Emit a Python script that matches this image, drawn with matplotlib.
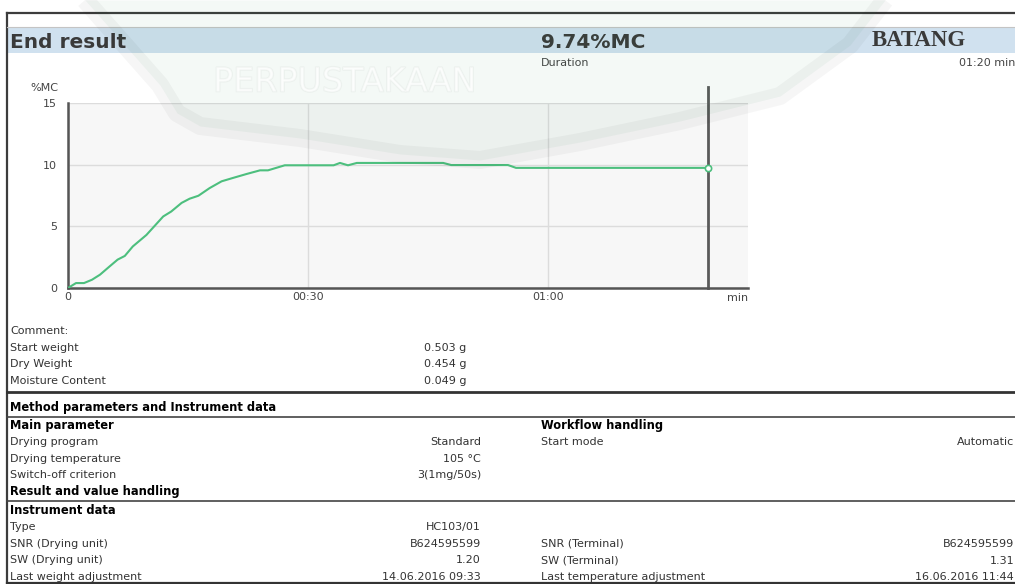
import numpy as np
import matplotlib.pyplot as plt
from matplotlib.ticker import FixedLocator, FuncFormatter
import matplotlib.patheffects as pe

# moisture curve of the drying run (seconds, %MC)
time_s = [0, 1, 2, 3, 4, 5.2, 6.2, 7.1, 8.1, 9.8, 11.9, 12.9, 14.2, 15.2, 16.3,
          17.7, 19.2, 20.6, 22.3, 24.0, 25.0, 27.1, 33.2, 34.0, 35.0, 36.1,
          46.9, 47.9, 55.0, 56.0, 80.0]
moisture_mc = [0, 0.4, 0.4, 0.67, 1.08, 1.75, 2.3, 2.6, 3.37, 4.3, 5.8, 6.2, 6.9,
               7.24, 7.48, 8.1, 8.65, 8.92, 9.24, 9.54, 9.54, 9.95, 9.95, 10.14,
               9.95, 10.14, 10.14, 9.97, 9.97, 9.74, 9.74]
end_time = 80
end_value = 9.74

y_ticks = [0, 5, 10, 15]
x_ticks = [0, 30, 60]

sample_rows = [("Comment:", ""), ("Start weight", "0.503 g"),
               ("Dry Weight", "0.454 g"), ("Moisture Content", "0.049 g")]
main_rows = [("Drying program", "Standard"), ("Drying temperature", "105 °C"),
             ("Switch-off criterion", "3(1mg/50s)")]
instrument_rows = [("Type", "HC103/01"), ("SNR (Drying unit)", "B624595599"),
                   ("SW (Drying unit)", "1.20"),
                   ("Last weight adjustment", "14.06.2016 09:33")]
terminal_rows = [("SNR (Terminal)", "B624595599"), ("SW (Terminal)", "1.31"),
                 ("Last temperature adjustment", "16.06.2016 11:44")]

W, H = 1015, 584
fig = plt.figure(figsize=(W / 100, H / 100), dpi=100)
fig.patch.set_facecolor('white')

# page layer in pixel coordinates
page = fig.add_axes([0, 0, 1, 1], zorder=0)
page.set_xlim(0, W)
page.set_ylim(H, 0)
page.axis('off')

txt = '#333333'
page.plot([7, W], [13, 13], color='#3c3c3c', lw=1.6)
page.plot([7, 7], [13, H], color='#3c3c3c', lw=1.6)
page.plot([7, W], [27, 27], color='#c4c4c4', lw=0.8)
page.fill_between([7, W], 28, 53, color='#d0e1ef', lw=0)

page.text(10, 42, "End result", fontsize=14.5, fontweight='bold', color='#3a3a3a', va='center')
page.text(541, 42, f"{end_value:.2f}%MC", fontsize=14.5, fontweight='bold', color='#3a3a3a', va='center')
page.text(872, 40, "BATANG", fontsize=16.5, fontweight='bold', family='Liberation Serif',
          color='#3a3a3a', va='center')
page.text(541, 63, "Duration", fontsize=8, color='#444444', va='center')
page.text(1015, 63, f"{end_time // 60:02d}:{end_time % 60:02d} min", fontsize=8,
          color='#444444', va='center', ha='right')

row_h = 16.7


def rows(items, x_label, x_value, y0, value_ha='right'):
    for i, (label, value) in enumerate(items):
        y = y0 + i * row_h
        page.text(x_label, y, label, fontsize=8, color=txt, va='center')
        if value:
            page.text(x_value, y, value, fontsize=8, color=txt, va='center', ha=value_ha)


def header(x, y, s):
    page.text(x, y, s, fontsize=8.3, fontweight='heavy', color='black', va='center')


rows(sample_rows, 10, 424, 331, value_ha='left')
page.plot([7, W], [392, 392], color='#333333', lw=2.0)
header(10, 408, "Method parameters and Instrument data")
page.plot([7, W], [416.5, 416.5], color='#444444', lw=1.2)
header(10, 426, "Main parameter")
rows(main_rows, 10, 481, 442)
header(10, 492, "Result and value handling")
page.plot([7, W], [500.5, 500.5], color='#444444', lw=1.2)
header(10, 510, "Instrument data")
rows(instrument_rows, 10, 481, 527)

header(541, 426, "Workflow handling")
rows([("Start mode", "Automatic")], 541, 1014, 442)
rows(terminal_rows, 541, 1014, 544)
page.plot([7, W], [582.5, 582.5], color='#333333', lw=1.6)

# drying curve
ax = fig.add_axes([68 / W, (H - 288) / H, (748 - 68) / W, (288 - 103) / H], zorder=1)
ax.set_facecolor('#f7f7f7')
ax.set_xlim(0, 85)
ax.set_ylim(0, 15)
ax.plot(time_s, moisture_mc, color='#4dbf7e', lw=1.5, zorder=3)
ax.plot([end_time], [end_value], marker='o', ms=4.5, mfc='white', mec='#4dbf7e',
        mew=1.2, zorder=4, clip_on=False)
ax.plot([end_time, end_time], [0, 16.3], color='#5a5a5a', lw=2, zorder=2, clip_on=False)

ax.xaxis.set_major_locator(FixedLocator(x_ticks))
ax.yaxis.set_major_locator(FixedLocator(y_ticks))
ax.xaxis.set_major_formatter(FuncFormatter(
    lambda v, p: '0' if v == 0 else f"{int(v) // 60:02d}:{int(v) % 60:02d}"))
ax.grid(True, color='#dcdcdc', lw=1)
ax.set_axisbelow(True)
ax.tick_params(length=0, labelsize=8, colors='#444444')
ax.tick_params(axis='y', pad=8)
ax.tick_params(axis='x', pad=3)
for side in ('top', 'right'):
    ax.spines[side].set_visible(False)
for side in ('left', 'bottom'):
    ax.spines[side].set_color('#555555')
    ax.spines[side].set_linewidth(1.8)
ax.text(-0.014, 1.08, "%MC", transform=ax.transAxes, fontsize=8, color='#444444',
        ha='right', va='center')
ax.text(1.0, -0.054, "min", transform=ax.transAxes, fontsize=8, color='#444444',
        ha='right', va='center')

# library stamp faintly over the page
wm = fig.add_axes([0, 0, 1, 1], zorder=2)
wm.set_xlim(0, W)
wm.set_ylim(H, 0)
wm.axis('off')
wm.patch.set_alpha(0)
rim_x = np.array([85, 160, 177, 200, 300, 400, 480, 580, 680, 780, 850, 885])
rim_y = np.array([0, 85, 113, 126, 138, 154, 160, 142, 121, 96, 45, 0])
wm.fill_between(rim_x, 0, rim_y, color='#2e8b57', alpha=0.05, lw=0)
wm.plot(rim_x, rim_y, color='black', alpha=0.035, lw=13, solid_capstyle='butt',
        solid_joinstyle='round')
wm.text(345, 82, "PERPUSTAKAAN", fontsize=24, color='white', alpha=0.5, ha='center',
        va='center', path_effects=[pe.withStroke(linewidth=1.2, foreground='#e3e9e5')])

fig.savefig('out.png', dpi=100)
